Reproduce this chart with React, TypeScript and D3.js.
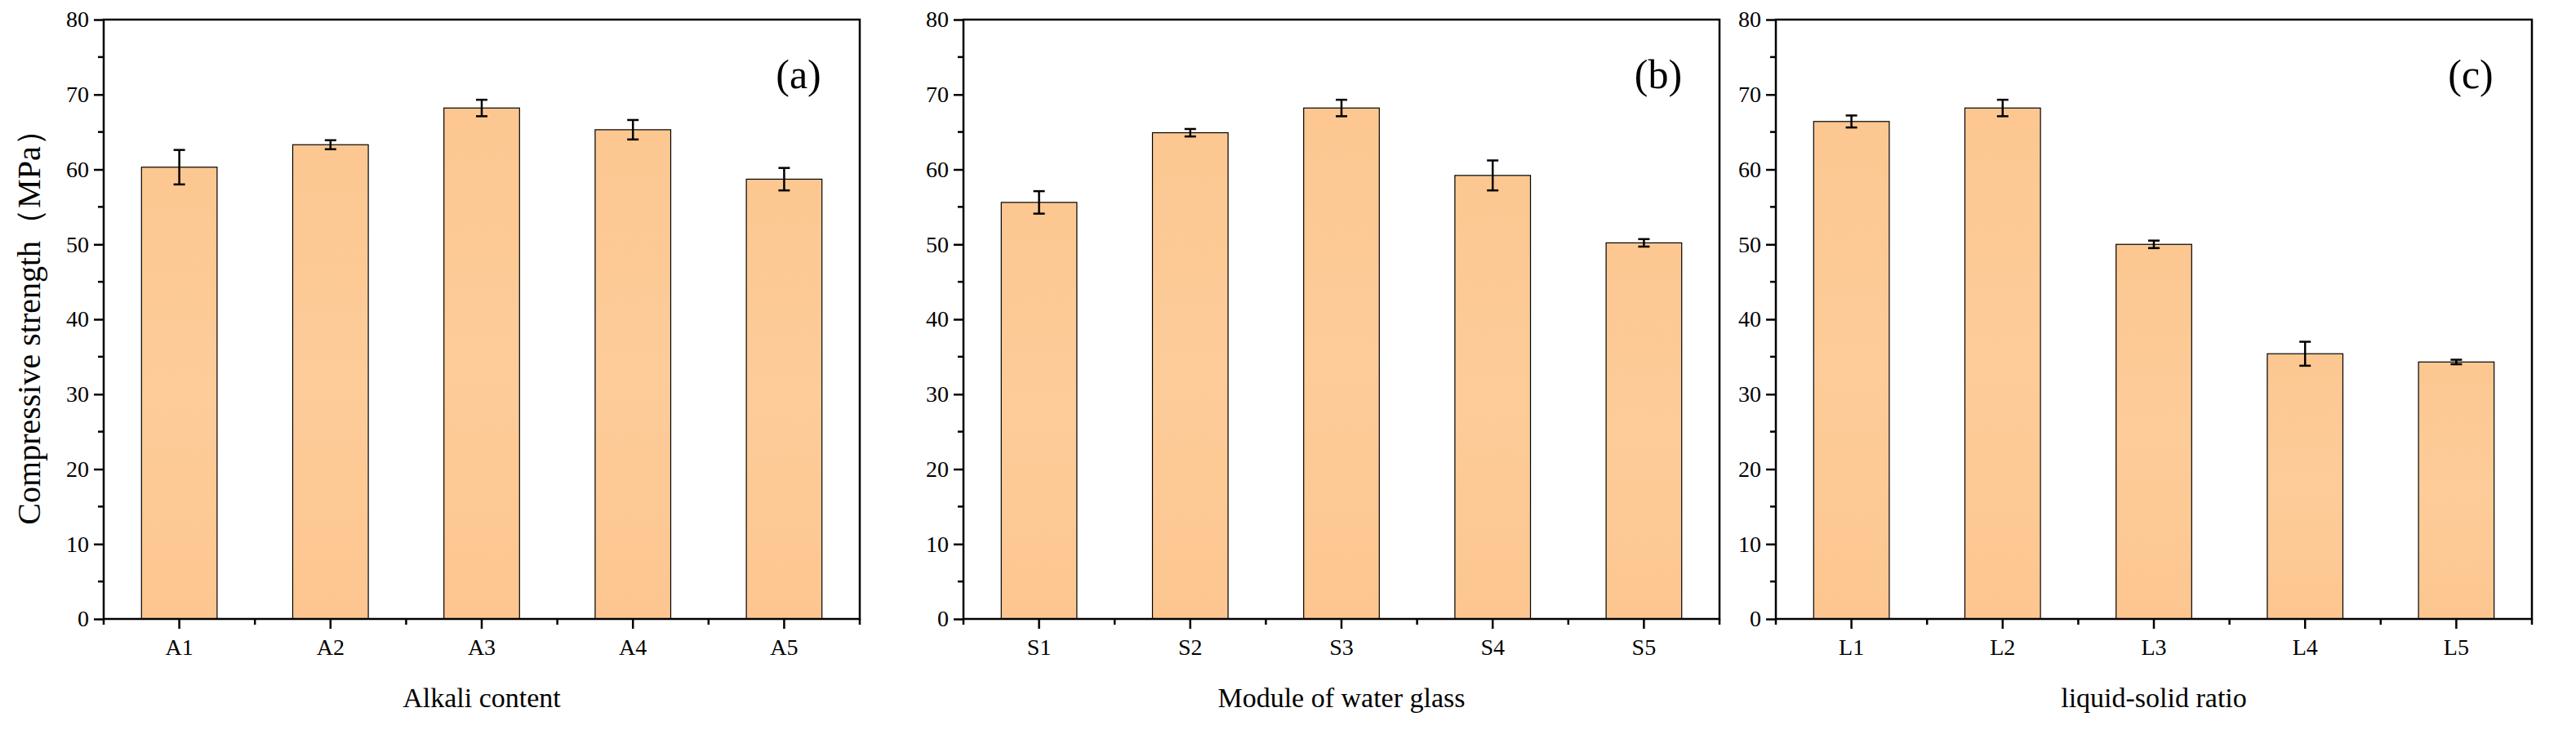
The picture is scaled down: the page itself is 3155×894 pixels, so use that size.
import { useEffect, useRef } from "react";
import * as d3 from "d3";

const panelLabels = ["(a)", "(b)", "(c)"];
const xTitles = ["Alkali content", "Module of water glass", "liquid-solid ratio"];
const categories = [
  ["A1", "A2", "A3", "A4", "A5"],
  ["S1", "S2", "S3", "S4", "S5"],
  ["L1", "L2", "L3", "L4", "L5"],
];
const means = [
  [60.3, 63.3, 68.2, 65.3, 58.7],
  [55.6, 64.9, 68.2, 59.2, 50.2],
  [66.4, 68.2, 50.0, 35.4, 34.3],
];
const errors = [
  [2.3, 0.6, 1.1, 1.3, 1.5],
  [1.5, 0.5, 1.1, 2.0, 0.5],
  [0.8, 1.1, 0.5, 1.6, 0.3],
];
const yTicks = [0, 10, 20, 30, 40, 50, 60, 70, 80];

const W = 3155;
const H = 894;
const panelLeft = [127, 1180, 2175];
const plotW = 926;
const top = 24;
const bottom = 758;
const font = "'Liberation Serif', 'Times New Roman', serif";

export default function App() {
  const ref = useRef<SVGSVGElement | null>(null);

  useEffect(() => {
    const svg = d3.select(ref.current);
    svg.selectAll("*").remove();

    const defs = svg.append("defs");
    const grad = defs
      .append("linearGradient")
      .attr("id", "barfill")
      .attr("x1", 0).attr("y1", 0).attr("x2", 0).attr("y2", 1)
      .attr("gradientUnits", "objectBoundingBox");
    grad.append("stop").attr("offset", "0%").attr("stop-color", "#fcc791");
    grad.append("stop").attr("offset", "50%").attr("stop-color", "#fdcc99");
    grad.append("stop").attr("offset", "100%").attr("stop-color", "#fdc690");

    const y = d3.scaleLinear().domain([0, 80]).range([bottom, top]);

    panelLeft.forEach((left, p) => {
      const g = svg.append("g");
      const x = d3
        .scaleBand<string>()
        .domain(categories[p])
        .range([left, left + plotW])
        .padding(0.5)
        .paddingOuter(0.25);
      const step = x.step();

      // bars
      g.selectAll("rect.bar")
        .data(categories[p])
        .enter()
        .append("rect")
        .attr("x", (d) => x(d)!)
        .attr("y", (_, i) => y(means[p][i]))
        .attr("width", x.bandwidth())
        .attr("height", (_, i) => bottom - y(means[p][i]))
        .attr("fill", "url(#barfill)")
        .attr("stroke", "#000")
        .attr("stroke-width", 1.2);

      // error bars
      categories[p].forEach((c, i) => {
        const cx = x(c)! + x.bandwidth() / 2;
        const hi = y(means[p][i] + errors[p][i]);
        const lo = y(means[p][i] - errors[p][i]);
        g.append("line").attr("x1", cx).attr("x2", cx).attr("y1", hi).attr("y2", lo)
          .attr("stroke", "#000").attr("stroke-width", 2.5);
        [hi, lo].forEach((yy) =>
          g.append("line").attr("x1", cx - 7).attr("x2", cx + 7).attr("y1", yy).attr("y2", yy)
            .attr("stroke", "#000").attr("stroke-width", 2.5)
        );
      });

      // frame
      g.append("rect")
        .attr("x", left).attr("y", top).attr("width", plotW).attr("height", bottom - top)
        .attr("fill", "none").attr("stroke", "#000").attr("stroke-width", 2.5);

      // y axis
      const yAxis = d3.axisLeft(y).tickValues(yTicks).tickSize(12).tickPadding(6);
      const gy = g.append("g").attr("transform", `translate(${left},0)`).call(yAxis);
      gy.select(".domain").remove();
      gy.selectAll("line").attr("stroke-width", 2.5);
      gy.selectAll("text").attr("font-family", font).attr("font-size", 28).attr("fill", "#000");
      d3.range(5, 80, 10).forEach((v) =>
        g.append("line").attr("x1", left - 7).attr("x2", left).attr("y1", y(v)).attr("y2", y(v))
          .attr("stroke", "#000").attr("stroke-width", 2.5)
      );

      // x axis
      const xAxis = d3.axisBottom(x).tickSize(12).tickPadding(12);
      const gx = g.append("g").attr("transform", `translate(0,${bottom})`).call(xAxis);
      gx.select(".domain").remove();
      gx.selectAll(".tick").attr("transform", (d: any) => `translate(${x(d)! + x.bandwidth() / 2},0)`);
      gx.selectAll("line").attr("stroke-width", 2.5);
      gx.selectAll("text").attr("font-family", font).attr("font-size", 28).attr("fill", "#000");
      categories[p].slice(0, -1).forEach((c) => {
        const bx = x(c)! + x.bandwidth() / 2 + step / 2;
        g.append("line").attr("x1", bx).attr("x2", bx).attr("y1", bottom).attr("y2", bottom + 7)
          .attr("stroke", "#000").attr("stroke-width", 2.5);
      });
      [left, left + plotW].forEach((bx) =>
        g.append("line").attr("x1", bx).attr("x2", bx).attr("y1", bottom).attr("y2", bottom + 7)
          .attr("stroke", "#000").attr("stroke-width", 2.5)
      );

      g.append("text")
        .attr("x", left + plotW / 2).attr("y", 866)
        .attr("text-anchor", "middle").attr("font-family", font).attr("font-size", 34)
        .text(xTitles[p]);

      g.append("text")
        .attr("x", left + plotW - 75).attr("y", 108)
        .attr("text-anchor", "middle").attr("font-family", font).attr("font-size", 50)
        .text(panelLabels[p]);

      if (p === 0) {
        g.append("text")
          .attr("transform", `translate(40,${(top + bottom) / 2}) rotate(-90)`)
          .attr("text-anchor", "middle").attr("dominant-baseline", "middle")
          .attr("font-family", font).attr("font-size", 40)
          .text("Compressive strength（MPa）");
      }
    });
  }, []);

  return (
    <svg ref={ref} width={W} height={H} style={{ display: "block", background: "#fff", margin: -8 }} />
  );
}
